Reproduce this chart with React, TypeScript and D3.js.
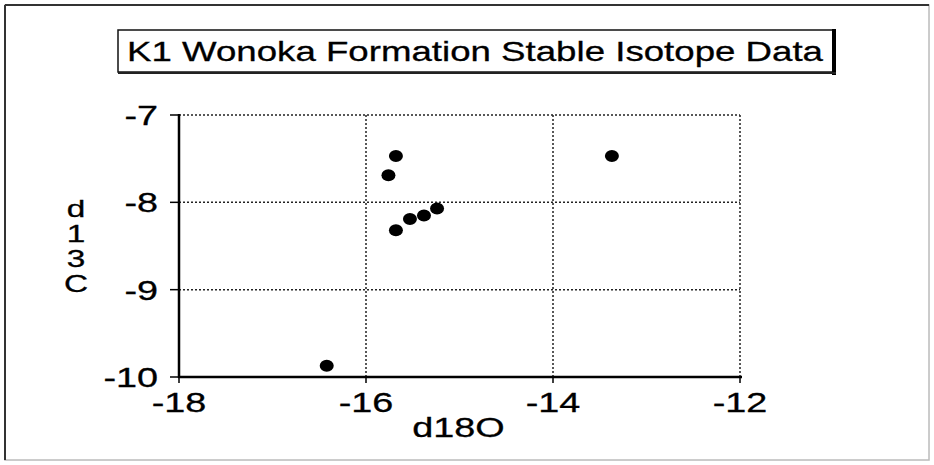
import * as d3 from "d3";

// d18O / d13C pairs
const d18O = [-15.76, -15.68, -15.68, -15.53, -15.38, -15.24, -16.42, -13.37];
const d13C = [-7.69, -7.47, -8.32, -8.19, -8.15, -8.07, -9.87, -7.47];
const xTicks = [-18, -16, -14, -12];
const yTicks = [-7, -8, -9, -10];
const yLabelChars = ["d", "1", "3", "C"];
const title = "K1 Wonoka Formation Stable Isotope Data";

const W = 934;
const H = 465;
const font = "'Liberation Sans', Arial, Helvetica, sans-serif";
const stretch = 1.4;

const App = () => {
  const x = d3.scaleLinear().domain([-18, -12]).range([179, 740]);
  const y = d3.scaleLinear().domain([-10, -7]).range([377, 115]);
  const [x0, x1] = x.range();
  const [y0, y1] = y.range();

  return (
    <svg width={W} height={H} style={{ position: "absolute", left: 0, top: 0, background: "#fff" }}>
      {/* outer frame */}
      <rect x={5} y={5} width={924} height={455} fill="none" stroke="#bbb" strokeWidth={1.5} />
      <line x1={5} y1={5} x2={929} y2={5} stroke="#333" strokeWidth={2} />
      <line x1={5} y1={5} x2={5} y2={460} stroke="#333" strokeWidth={2} />

      {/* title box */}
      <rect x={118} y={30} width={715} height={42} fill="#fff" stroke="#111" strokeWidth={1.5} />
      <line x1={834} y1={29} x2={834} y2={75} stroke="#000" strokeWidth={4} />
      <line x1={118} y1={73} x2={836} y2={73} stroke="#222" strokeWidth={2} />
      <text
        x={127}
        y={61}
        fontFamily={font}
        fontSize={28}
        textLength={696}
        lengthAdjust="spacingAndGlyphs"
        fill="#000"
        stroke="#000"
        strokeWidth={0.3}
      >
        {title}
      </text>

      {/* dotted grid */}
      {xTicks.slice(1).map((t) => (
        <line key={"gx" + t} x1={x(t)} x2={x(t)} y1={y0} y2={y1} stroke="#222" strokeWidth={1.5} strokeDasharray="2,2" />
      ))}
      {yTicks.slice(0, 3).map((t) => (
        <line key={"gy" + t} x1={x0} x2={x1} y1={y(t)} y2={y(t)} stroke="#222" strokeWidth={1.5} strokeDasharray="2,2" />
      ))}

      {/* axes */}
      <line x1={x0} x2={x0} y1={y1 - 1} y2={y0 + 1} stroke="#000" strokeWidth={2.5} />
      <line x1={x0 - 1} x2={x1 + 2} y1={y0} y2={y0} stroke="#000" strokeWidth={2.5} />
      {yTicks.map((t) => (
        <g key={"yt" + t}>
          <line x1={x0 - 9} x2={x0} y1={y(t)} y2={y(t)} stroke="#000" strokeWidth={1.5} />
          <text
            transform={`translate(${x0 - 21},${y(t) + 10}) scale(${stretch},1)`}
            textAnchor="end"
            fontFamily={font}
            fontSize={27}
            fill="#000"
            stroke="#000"
            strokeWidth={0.3}
          >
            {t}
          </text>
        </g>
      ))}
      {xTicks.map((t) => (
        <g key={"xt" + t}>
          <line x1={x(t)} x2={x(t)} y1={y0} y2={y0 + 6} stroke="#000" strokeWidth={1.5} />
          <text
            transform={`translate(${x(t)},${y0 + 35}) scale(${stretch},1)`}
            textAnchor="middle"
            fontFamily={font}
            fontSize={27}
            fill="#000"
            stroke="#000"
            strokeWidth={0.3}
          >
            {t}
          </text>
        </g>
      ))}

      {/* axis titles */}
      <text
        transform={`translate(${(x0 + x1) / 2 - 1},437) scale(${stretch},1)`}
        textAnchor="middle"
        fontFamily={font}
        fontSize={27}
        fill="#000"
        stroke="#000"
        strokeWidth={0.3}
      >
        d18O
      </text>
      {yLabelChars.map((c, i) => (
        <text
          key={"yl" + i}
          transform={`translate(76,${217 + i * 25}) scale(1.45,1)`}
          textAnchor="middle"
          fontFamily={font}
          fontSize={23}
          fill="#000"
          stroke="#000"
          strokeWidth={0.3}
        >
          {c}
        </text>
      ))}

      {/* points */}
      {d18O.map((v, i) => (
        <ellipse key={"p" + i} cx={x(v)} cy={y(d13C[i])} rx={7} ry={6} fill="#000" />
      ))}
    </svg>
  );
};

export default App;
